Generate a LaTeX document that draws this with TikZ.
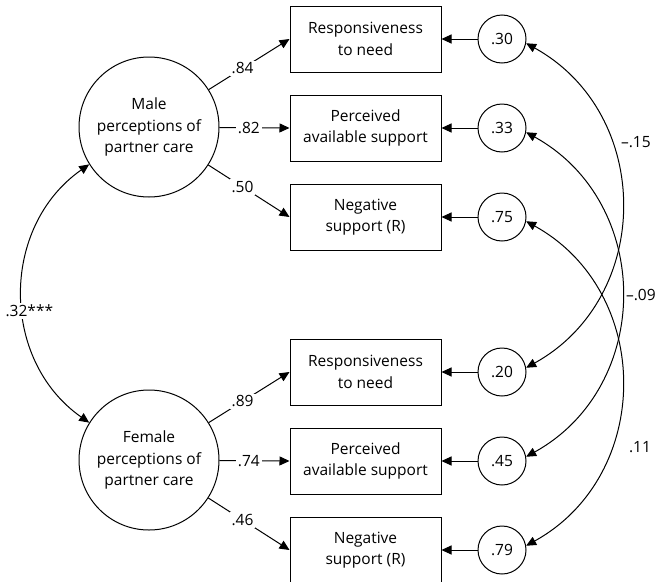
\documentclass[tikz,border=0pt]{standalone}
\usepackage{fontspec}
\setmainfont{Open Sans}
\usetikzlibrary{arrows.meta,positioning}

\begin{document}
\begin{tikzpicture}[
  x=1pt, y=1pt,
  font=\fontsize{15.5}{21.5}\selectfont,
  obs/.style={draw, line width=1pt, minimum width=151pt, minimum height=66pt, align=center, inner sep=2pt},
  lat/.style={draw, circle, line width=1pt, minimum size=140pt, align=center, inner sep=0pt},
  err/.style={draw, circle, line width=1pt, minimum size=48pt, inner sep=0pt},
  arr/.style={-{Triangle[length=10pt,width=9pt]}, line width=1pt},
  cov/.style={{Triangle[length=10pt,width=9pt]}-{Triangle[length=10pt,width=9pt]}, line width=1pt},
  coef/.style={fill=white, inner sep=2pt},
  node distance=22pt
]
\useasboundingbox (0,0) rectangle (658,-581);
% latent factors
\node[lat] (male)   at (149,-127) {Male\\perceptions of\\partner care};
\node[lat] (female) at (149,-460) {Female\\perceptions of\\partner care};
% indicators
\node[obs] (mresp) at (365.5,-39) {Responsiveness\\to need};
\node[obs, below=of mresp] (mpas) {Perceived\\available support};
\node[obs, below=of mpas]  (mneg) {Negative\\support (R)};
\node[obs] (fresp) at (365.5,-372) {Responsiveness\\to need};
\node[obs, below=of fresp] (fpas) {Perceived\\available support};
\node[obs, below=of fpas]  (fneg) {Negative\\support (R)};
% residuals
\node[err, right=36pt of mresp] (emresp) {.30};
\node[err, right=36pt of mpas]  (empas)  {.33};
\node[err, right=36pt of mneg]  (emneg)  {.75};
\node[err, right=36pt of fresp] (efresp) {.20};
\node[err, right=36pt of fpas]  (efpas)  {.45};
\node[err, right=36pt of fneg]  (efneg)  {.79};
% loadings
\draw[arr] (male) -- node[coef, pos=0.42] {.84} (mresp.west);
\draw[arr] (male) -- node[coef, pos=0.42] {.82} (mpas.west);
\draw[arr] (male) -- node[coef, pos=0.42] {.50} (mneg.west);
\draw[arr] (female) -- node[coef, pos=0.42] {.89} (fresp.west);
\draw[arr] (female) -- node[coef, pos=0.42] {.74} (fpas.west);
\draw[arr] (female) -- node[coef, pos=0.42] {.46} (fneg.west);
\draw[arr] (emresp) -- (mresp);
\draw[arr] (empas) -- (mpas);
\draw[arr] (emneg) -- (mneg);
\draw[arr] (efresp) -- (fresp);
\draw[arr] (efpas) -- (fpas);
\draw[arr] (efneg) -- (fneg);
% covariances
\draw[cov] (male.212) to[out=215, in=145, looseness=1.08] node[coef, pos=0.56, xshift=6pt] {.32***} (female.148);
\draw[cov] (emresp.-10) to[out=-29, in=29, looseness=1.15] node[pos=0.33, right=8pt, inner sep=2pt] {--.15} (efresp.10);
\draw[cov] (empas.-10) to[out=-29, in=29, looseness=1.15] node[pos=0.5, right=2pt, inner sep=2pt] {--.09} (efpas.10);
\draw[cov] (emneg.-10) to[out=-29, in=29, looseness=1.15] node[pos=0.67, right=16pt, inner sep=2pt] {.11} (efneg.10);
\end{tikzpicture}
\end{document}
